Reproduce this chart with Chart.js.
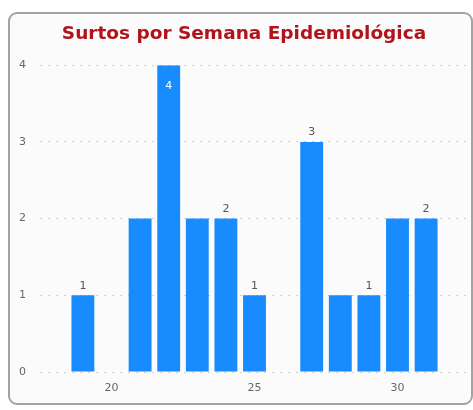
<!DOCTYPE html>
<html>
<head>
<meta charset="utf-8">
<script src="https://cdn.jsdelivr.net/npm/chart.js@4"></script>
<style>
  html, body { margin: 0; padding: 0; background: #fff; overflow: hidden; }
  #card {
    position: absolute; left: 8px; top: 12px;
    width: 461px; height: 389px;
    border: 2px solid #a3a3a3; border-radius: 9px;
    background: #fbfbfb;
  }
  canvas { display: block; }
</style>
</head>
<body>
<div id="card"><canvas id="chart" width="459" height="389"></canvas></div>
<script>
/* ── data ───────────────────────────────────────────────────────────── */
const WEEKS   = [18, 19, 20, 21, 22, 23, 24, 25, 26, 27, 28, 29, 30, 31, 32];
const SURTOS  = [null, 1, null, 2, 4, 2, 2, 1, null, 3, 1, 1, 2, 2, null];
// value labels as shown on the picture (null = no label)
const LABELS  = [null, '1', null, null, '4', null, '2', '1', null, '3', null, '1', null, '2', null];
const Y_TICKS = [0, 1, 2, 3, 4];

const TITLE   = 'Surtos por Semana Epidemiológica';
const BAR_COL = '#188cff';
const FONT    = "'DejaVu Sans', Verdana, sans-serif";

/* ── value labels plugin ─────────────────────────────────────────────── */
const valueLabels = {
  id: 'valueLabels',
  afterDatasetsDraw(chart) {
    const { ctx } = chart;
    const meta = chart.getDatasetMeta(0);
    ctx.save();
    ctx.font = '11px ' + FONT;
    ctx.textAlign = 'center';
    meta.data.forEach((bar, i) => {
      const txt = LABELS[i];
      if (!txt) return;
      const v = SURTOS[i];
      if (v === Y_TICKS[Y_TICKS.length - 1]) {
        ctx.fillStyle = '#ffffff';
        ctx.textBaseline = 'top';
        ctx.fillText(txt, bar.x, bar.y + 15);
      } else {
        ctx.fillStyle = '#555555';
        ctx.textBaseline = 'bottom';
        ctx.fillText(txt, bar.x, bar.y - 4);
      }
    });
    ctx.restore();
  },
};

new Chart(document.getElementById('chart'), {
  type: 'bar',
  data: {
    labels: WEEKS.map(String),
    datasets: [{
      data: SURTOS,
      backgroundColor: BAR_COL,
      borderWidth: 0,
      barPercentage: 0.8,
      categoryPercentage: 1.0,
    }],
  },
  options: {
    responsive: false,
    animation: false,
    layout: { padding: { left: 9, right: 0, top: 0, bottom: 0 } },
    plugins: {
      legend: { display: false },
      tooltip: { enabled: false },
      title: {
        display: true,
        text: TITLE,
        color: '#b0141a',
        font: { family: FONT, size: 18.5, weight: 'bold' },
        padding: { top: 9, bottom: 20 },
      },
    },
    scales: {
      x: {
        grid: { display: false, drawTicks: false },
        border: { display: false },
        ticks: {
          autoSkip: false,
          maxRotation: 0,
          padding: 10,
          color: '#666',
          font: { family: FONT, size: 11 },
          callback: function (val) {
            const w = WEEKS[val];
            return w % 5 === 0 ? String(w) : '';
          },
        },
        afterFit: s => { s.height = 31; },
      },
      y: {
        min: Y_TICKS[0],
        max: Y_TICKS[Y_TICKS.length - 1],
        afterBuildTicks: s => { s.ticks = Y_TICKS.map(v => ({ value: v })); },
        grid: {
          color: '#cfcfcf',
          lineWidth: 1,
          drawTicks: false,
        },
        border: { display: false, dash: [2, 6] },
        ticks: {
          crossAlign: 'far',
          padding: 0,
          color: '#666',
          font: { family: FONT, size: 11 },
        },
        afterFit: s => { s.width = 21; },
      },
    },
  },
  plugins: [valueLabels],
});
</script>
</body>
</html>
